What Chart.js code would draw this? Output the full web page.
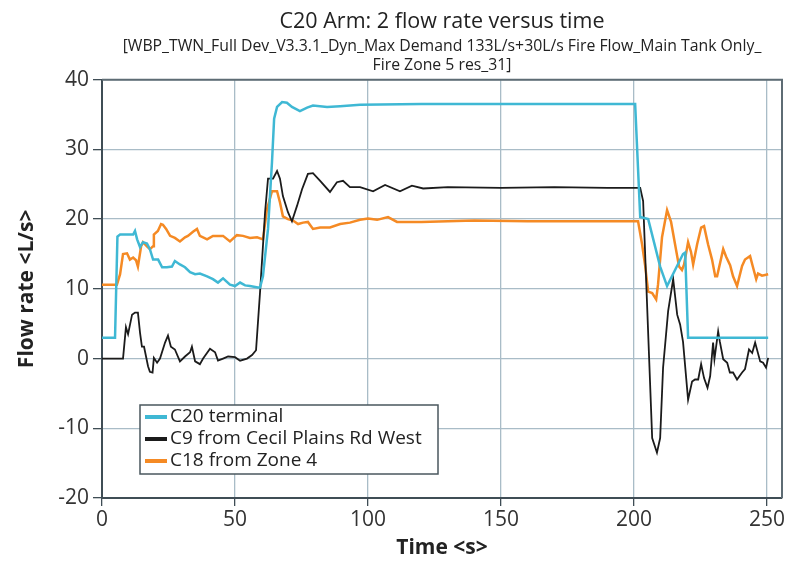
<!DOCTYPE html>
<html>
<head>
<meta charset="utf-8">
<script src="https://cdn.jsdelivr.net/npm/chart.js@4"></script>
<style>
  html, body { margin: 0; padding: 0; background: #ffffff; }
  #wrap { width: 796px; height: 567px; position: relative; }
</style>
</head>
<body>
<div id="wrap"><canvas id="flowChart" width="796" height="567"></canvas></div>
<script>
// ----------------------------------------------------------
// DATA
// ----------------------------------------------------------
const seriesNames = ["C20 terminal", "C9 from Cecil Plains Rd West", "C18 from Zone 4"];
const seriesColors = ["#3fb8d4", "#1b1b1b", "#f58a24"];

const c20Time = [0, 4.9, 5.8, 6.8, 11.7, 12.4, 13.2, 14.3, 15.4, 16.9, 18, 19.2, 21.1, 22.6, 24.4, 26.3, 27.4,
    29.3, 31.2, 33.1, 35, 36.8, 39.5, 41.7, 43.6, 45.5, 48.1, 50, 51.9, 53.8, 55.6, 58.6, 59.4, 60.5, 62.4,
    63.9, 64.7, 65.8, 67.7, 69.5, 71.4, 74.4, 77.1, 79.3, 84.6, 89.5, 97, 120, 150, 200.4, 202.3, 205.3,
    209.8, 212.4, 218.4, 219.2, 220.3, 250.4];
const c20Flow = [3.0, 3.0, 17.5, 17.8, 17.8, 18.3, 17.1, 16.0, 16.7, 16.5, 15.7, 14.2, 14.2, 13.1, 13.1, 13.2, 14.0,
    13.5, 13.1, 12.4, 12.1, 12.2, 11.8, 11.4, 10.9, 11.5, 10.6, 10.4, 10.9, 10.5, 10.4, 10.2, 10.2, 11.8, 18.6,
    28.2, 34.4, 36.1, 36.8, 36.7, 36.1, 35.5, 36.0, 36.3, 36.1, 36.2, 36.4, 36.5, 36.5, 36.5, 20.3, 20.0,
    13.2, 10.4, 15.0, 15.2, 3.0, 3.0];

const c9Time = [0, 7.9, 9, 9.8, 11.3, 12.4, 13.5, 14.3, 15, 15.8, 17.3, 18, 19, 19.5, 20.7, 21.8, 23.7, 24.8,
    25.9, 27.4, 29.3, 31.2, 33.1, 33.8, 35, 36.8, 38, 40.6, 42.5, 43.6, 45.5, 47.4, 50, 51.9, 54.5, 56.4,
    57.9, 59.4, 61.3, 62.4, 64.3, 65.8, 66.9, 68, 69.9, 71.4, 73.3, 75.2, 77.4, 79.3, 82, 85.7, 88.3, 90.6,
    93.2, 97, 101.9, 106.4, 112, 116.5, 120.7, 130, 150, 170, 190, 202.3, 203.4, 206.8, 208.6, 209.8,
    210.9, 212.8, 214.7, 216.2, 217.3, 218.4, 220.3, 221.8, 222.9, 224.1, 225.2, 226.3, 227.6, 228.6,
    229.7, 230.2, 231.6, 232.2, 233.5, 235, 236, 237.2, 238.7, 240.6, 241.7, 243.2, 244.4, 245.5, 247.4,
    248.5, 249.6, 250.4];
const c9Flow = [0, 0, 4.5, 3.5, 6.3, 6.6, 6.6, 3.7, 1.7, 1.7, -1.1, -1.9, -2.0, 0.1, -0.6, 0, 2.3, 3.3,
    1.7, 1.3, -0.4, 0.3, 0.9, 1.7, -0.4, -0.8, 0, 1.4, 0.9, -0.3, 0, 0.3, 0.2, -0.3, 0, 0.5,
    1.2, 9.5, 21.0, 25.8, 25.8, 26.9, 25.8, 23.3, 21.0, 19.7, 21.9, 24.3, 26.5, 26.6, 25.5, 23.9, 25.3, 25.5,
    24.6, 24.6, 24.0, 24.9, 24.0, 24.8, 24.4, 24.6, 24.5, 24.6, 24.5, 24.5, 22.6, -11.4, -13.5, -11.4,
    -1.3, 6.8, 11.4, 6.3, 4.9, 2.4, -5.9, -3.3, -3.0, -3.0, -0.8, -2.8, -4.2, -2.5,
    2.3, -0.1, 3.9, 2.5, -0.1, -0.6, -2.0, -2.0, -3.0, -2.0, -1.5, 1.3, 0.8, 2.3, -0.4,
    -0.6, -1.3, 0.1];

const c18Time = [0, 5.6, 6.8, 7.9, 9.4, 10.5, 11.7, 12.8, 13.5, 14.7, 15.4, 16.9, 18, 19.2, 19.5, 21, 22.2,
    22.9, 24.1, 25.6, 27.4, 29.3, 31.2, 32.3, 34.2, 35.7, 36.8, 39.5, 41.7, 45.5, 48.1, 50.7, 53, 55.6, 58.3,
    60.5, 62, 63.9, 65.8, 66.9, 68, 69.9, 71.8, 73.7, 75.6, 77.4, 79.3, 82, 85.7, 89.5, 93.2, 97, 100, 103.4,
    107.5, 110.9, 120, 140, 160, 180, 201.5, 203, 204.1, 205.3, 206.8, 208.3, 209, 210.5, 212.4, 213.9,
    215.4, 216.9, 218, 218.8, 220.3, 221.4, 222.2, 223.7, 225.2, 226.3, 227.8, 229.3, 230.5, 231.2, 233.5,
    234.6, 236.1, 237.2, 238.7, 240.6, 241.7, 243.6, 244.7, 245.9, 246.6, 248.1, 250.4];
const c18Flow = [10.6, 10.6, 12.1, 15.0, 15.1, 14.2, 14.5, 14.1, 13.2, 16.1, 16.7, 16.1, 15.7, 16.1, 17.8, 18.3, 19.3,
    19.2, 18.6, 17.6, 17.3, 16.8, 17.4, 17.6, 18.2, 18.6, 17.6, 17.1, 17.6, 17.6, 16.8, 17.7, 17.6, 17.3, 17.4,
    17.1, 21.4, 24.0, 24.0, 22.4, 20.4, 20.0, 19.8, 19.3, 19.5, 19.6, 18.6, 18.8, 18.8, 19.3, 19.5, 19.9, 20.1, 19.9,
    20.3, 19.6, 19.6, 19.8, 19.7, 19.7, 19.7, 16.4, 13.5, 9.6, 9.4, 8.5, 10.6, 17.4, 21.3, 19.6,
    16.4, 13.2, 12.7, 13.5, 16.7, 15.3, 13.5, 16.4, 18.8, 19.0, 16.4, 14.2, 11.8, 11.8, 15.7,
    14.6, 13.4, 11.8, 10.4, 13.3, 14.2, 14.7, 13.1, 11.4, 12.2, 11.9, 12.1];

const xTicks = [0, 50, 100, 150, 200, 250];
const yTicks = [-20, -10, 0, 10, 20, 30, 40];

// ----------------------------------------------------------
// HELPERS
// ----------------------------------------------------------
function toPoints(times, values) {
    return times.map((t, i) => ({ x: t, y: values[i] }));
}

const FONT = "'Open Sans', 'DejaVu Sans', sans-serif";
const GRID = "#a9bcc7";
const AXIS = "#3f4d55";

// frame on top and right of the plot
const framePlugin = {
    id: "frame",
    afterDatasetsDraw(chart) {
        const a = chart.chartArea, ctx = chart.ctx;
        ctx.save();
        ctx.strokeStyle = "#5e6c74";
        ctx.lineWidth = 2;
        ctx.beginPath();
        ctx.moveTo(a.left, a.top);
        ctx.lineTo(a.right, a.top);
        ctx.lineTo(a.right, a.bottom);
        ctx.stroke();
        ctx.restore();
    }
};

// boxed legend inside the plot, lower left
const boxLegendPlugin = {
    id: "boxLegend",
    afterDraw(chart) {
        const ctx = chart.ctx;
        const x0 = 140, y0 = 405, w = 298, h = 69;
        ctx.save();
        ctx.fillStyle = "#ffffff";
        ctx.fillRect(x0, y0, w, h);
        ctx.strokeStyle = "#4a575e";
        ctx.lineWidth = 1.5;
        ctx.strokeRect(x0, y0, w, h);
        ctx.font = "19px " + FONT;
        ctx.textBaseline = "middle";
        chart.data.datasets.forEach((ds, i) => {
            const cy = y0 + 12 + i * 22;
            ctx.strokeStyle = ds.borderColor;
            ctx.lineWidth = 4;
            ctx.beginPath();
            ctx.moveTo(x0 + 5, cy);
            ctx.lineTo(x0 + 27, cy);
            ctx.stroke();
            ctx.fillStyle = "#222222";
            ctx.fillText(ds.label, x0 + 30, cy);
        });
        ctx.restore();
    }
};

// ----------------------------------------------------------
// CHART
// ----------------------------------------------------------
const ctx = document.getElementById("flowChart").getContext("2d");
new Chart(ctx, {
    type: "line",
    data: {
        datasets: [
            { label: seriesNames[0], data: toPoints(c20Time, c20Flow), borderColor: seriesColors[0], borderWidth: 2.5 },
            { label: seriesNames[1], data: toPoints(c9Time, c9Flow), borderColor: seriesColors[1], borderWidth: 1.8 },
            { label: seriesNames[2], data: toPoints(c18Time, c18Flow), borderColor: seriesColors[2], borderWidth: 2.5 }
        ]
    },
    options: {
        responsive: false,
        animation: false,
        layout: { padding: { left: 0, right: 14, top: 0, bottom: 0 } },
        elements: { point: { radius: 0 }, line: { tension: 0, fill: false } },
        plugins: {
            legend: { display: false },
            tooltip: { enabled: false },
            title: {
                display: true,
                fullSize: false,
                text: "C20 Arm: 2 flow rate versus time",
                color: "#222222",
                font: { family: FONT, size: 21.5, weight: "normal", lineHeight: 1.2 },
                padding: { top: 9, bottom: 2 }
            },
            subtitle: {
                display: true,
                fullSize: false,
                text: ["[WBP_TWN_Full Dev_V3.3.1_Dyn_Max Demand 133L/s+30L/s Fire Flow_Main Tank Only_", "Fire Zone 5 res_31]"],
                color: "#222222",
                font: { family: FONT, size: 15.8, weight: "normal", lineHeight: 1.2 },
                padding: { top: 0, bottom: 5 }
            }
        },
        scales: {
            x: {
                type: "linear",
                min: 0,
                max: 255.6,
                afterFit(scale) { scale.height = 69; },
                afterBuildTicks(scale) { scale.ticks = xTicks.map(v => ({ value: v })); },
                ticks: { color: "#333333", font: { family: FONT, size: 21 }, padding: 1, maxRotation: 0 },
                grid: { color: GRID, lineWidth: 1.3, tickLength: 8, tickColor: AXIS },
                border: { color: AXIS, width: 2 },
                title: {
                    display: true,
                    text: "Time <s>",
                    color: "#222222",
                    font: { family: FONT, size: 21, weight: "bold", lineHeight: 1.2 },
                    padding: { top: 0, bottom: 6 }
                }
            },
            y: {
                min: -20,
                max: 40,
                afterFit(scale) { scale.width = 102; },
                afterBuildTicks(scale) { scale.ticks = yTicks.map(v => ({ value: v })); },
                ticks: { color: "#333333", font: { family: FONT, size: 21 }, padding: 4 },
                grid: { color: GRID, lineWidth: 1.3, tickLength: 9, tickColor: AXIS },
                border: { color: AXIS, width: 2 },
                title: {
                    display: true,
                    text: "Flow rate <L/s>",
                    color: "#222222",
                    font: { family: FONT, size: 21, weight: "bold", lineHeight: 1.2 },
                    padding: { top: 14, bottom: 0 }
                }
            }
        }
    },
    plugins: [framePlugin, boxLegendPlugin]
});
</script>
</body>
</html>
